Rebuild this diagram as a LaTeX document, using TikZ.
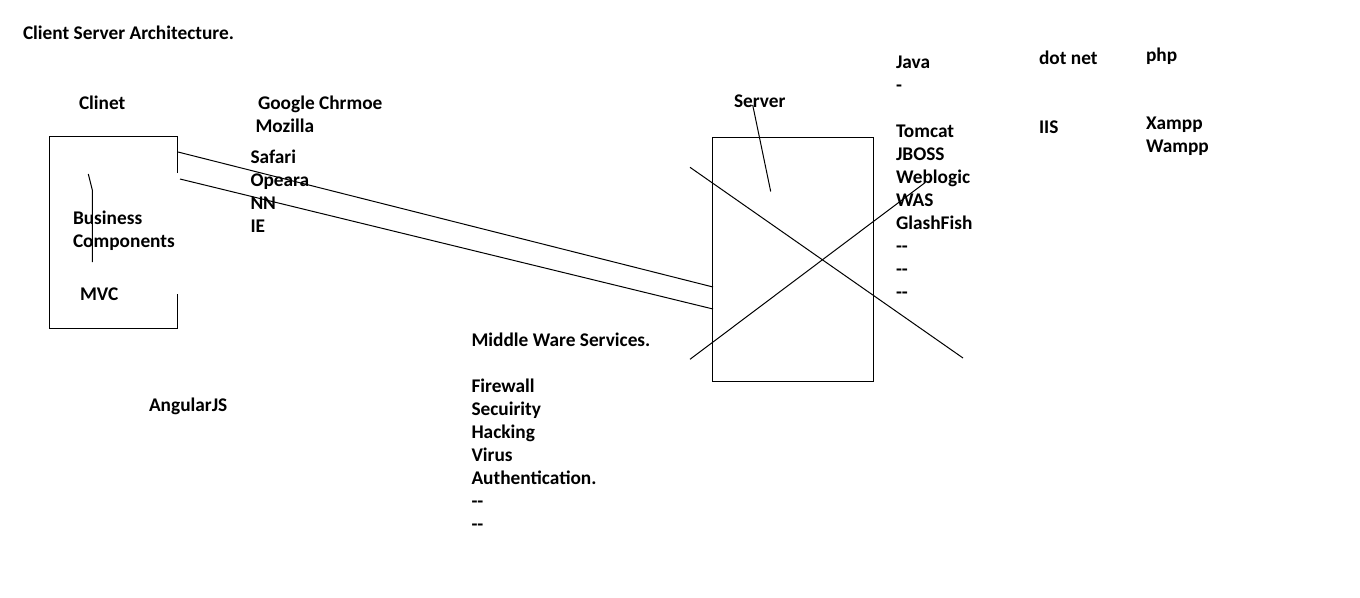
\documentclass[tikz,border=0pt]{standalone}
\usepackage{fontspec}
\setmainfont{Carlito}
\begin{document}
\begin{tikzpicture}[x=0.75pt,y=-0.75pt,
  lbl/.style={anchor=base west,inner sep=0pt,outer sep=0pt,font=\fontsize{14.5pt}{17.25pt}\selectfont\bfseries},
  stroke/.style={line width=0.75pt,black}]
\useasboundingbox (0,0) rectangle (1360,597);
\fill[white] (0,0) rectangle (1360,597);
% title
\node[lbl] (title) at (23,39) {Client Server Architecture.};
% client
\node[lbl] (clinet) at (79,109) {Clinet};
\coordinate (cTL) at (49,136);
\coordinate (cTR) at (177,136);
\coordinate (cRg1) at (177,173);
\coordinate (cRg2) at (177,294);
\coordinate (cBR) at (177,328);
\coordinate (cBL) at (49,328);
\draw[stroke] (cRg1) -- (cTR) -- (cTL) -- (cBL) -- (cBR) -- (cRg2);
\coordinate (s1a) at (88.3,174);
\coordinate (s1b) at (92.3,190);
\coordinate (s1c) at (92.3,262);
\draw[stroke] (s1a) -- (s1b) -- (s1c);
\node[lbl] (business) at (73,224.5) {Business};
\node[lbl] (components) at (73,247.5) {Components};
\node[lbl] (mvc) at (80,300.5) {MVC};
\node[lbl] (angular) at (149,411) {AngularJS};
% browsers
\node[lbl] (chrome) at (258,109) {Google Chrmoe};
\node[lbl] (mozilla) at (255.5,132) {Mozilla};
\node[lbl] (safari) at (250.5,163) {Safari};
\node[lbl] (opera) at (250.5,186) {Opeara};
\node[lbl] (nn) at (250.5,209) {NN};
\node[lbl] (ie) at (250.5,232) {IE};
% connectors
\coordinate (l1a) at (178,152);
\coordinate (l1b) at (713,287);
\coordinate (l2a) at (180,179);
\coordinate (l2b) at (713,309);
\draw[stroke] (l1a) -- (l1b);
\draw[stroke] (l2a) -- (l2b);
% server
\node[lbl] (server) at (734,107) {Server};
\draw[stroke] (712.5,137.5) rectangle (873,381);
\coordinate (sv1) at (752.7,105);
\coordinate (sv2) at (770.7,191.5);
\draw[stroke] (sv1) -- (sv2);
\coordinate (x1a) at (690,167.3);
\coordinate (x1b) at (963,358);
\coordinate (x2a) at (690,359.3);
\coordinate (x2b) at (925,182.7);
\draw[stroke] (x1a) -- (x1b);
\draw[stroke] (x2a) -- (x2b);
% middleware
\node[lbl] (mw) at (471.5,346) {Middle Ware Services.};
\foreach \t [count=\i] in {Firewall,Secuirity,Hacking,Virus,Authentication.,{-}{-},{-}{-}}
  \node[lbl] (mw\i) at (471.5,346+23*\i+23) {\t};
% java
\node[lbl] (java) at (896,68) {Java};
\node[lbl] (javadash) at (896,91) {-};
\foreach \t [count=\i] in {Tomcat,JBOSS,Weblogic,WAS,GlashFish,{-}{-},{-}{-},{-}{-}}
  \node[lbl] (java\i) at (896,114+23*\i) {\t};
% dot net
\node[lbl] (dotnet) at (1039,64) {dot net};
\node[lbl] (iis) at (1039,133) {IIS};
% php
\node[lbl] (php) at (1146,61) {php};
\node[lbl] (xampp) at (1146,129) {Xampp};
\node[lbl] (wampp) at (1146,152) {Wampp};
\end{tikzpicture}
\end{document}
